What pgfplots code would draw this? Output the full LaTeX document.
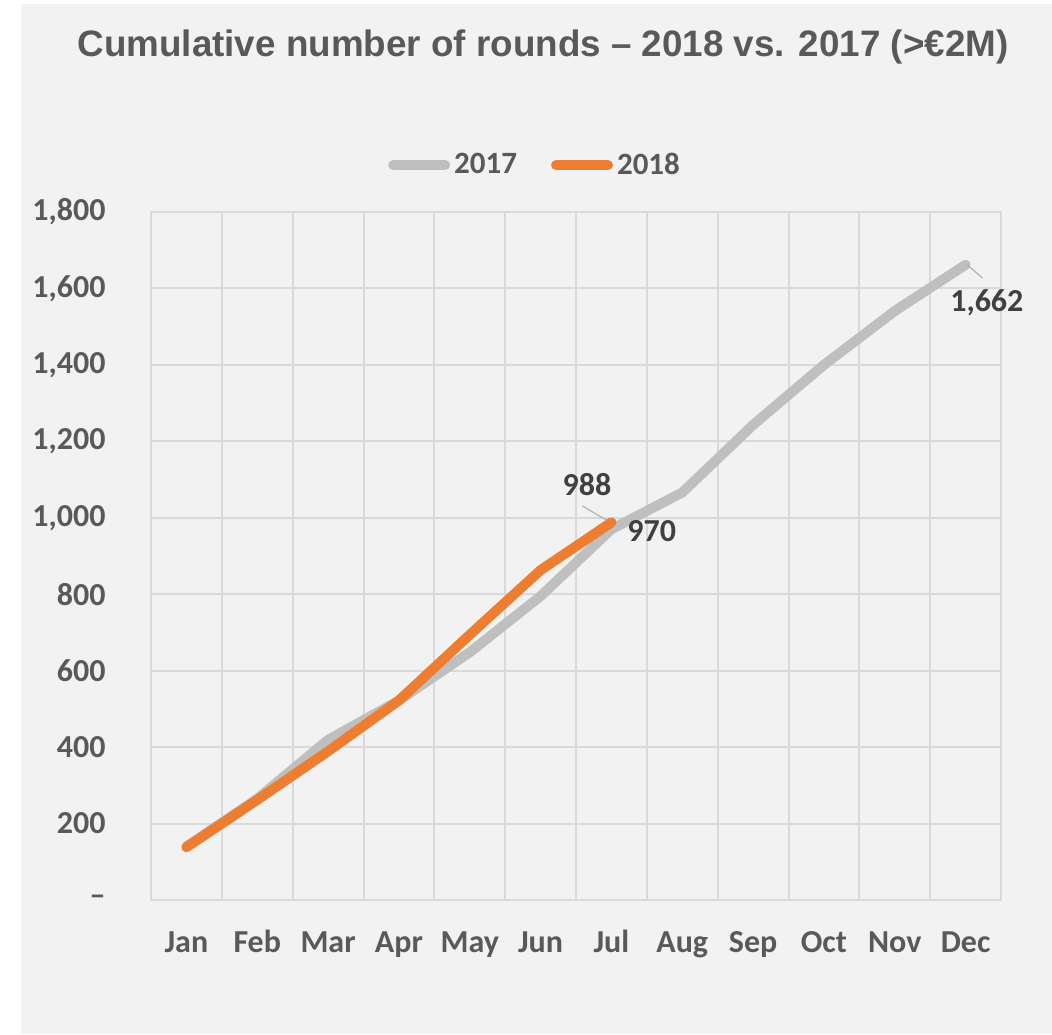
\documentclass[border=0pt]{standalone}
\usepackage{fontspec}
\setmainfont{Carlito}
\newfontfamily\titlefont{Liberation Sans}
\usepackage{pgfplots}
\pgfplotsset{compat=1.18}
\definecolor{bggray}{HTML}{F2F2F2}
\definecolor{gridgray}{HTML}{D9D9D9}
\definecolor{txtgray}{HTML}{595959}
\definecolor{lblgray}{HTML}{404040}
\definecolor{line17}{HTML}{BFBFBF}
\definecolor{line18}{HTML}{ED7D31}

\begin{document}
\begin{tikzpicture}
  \useasboundingbox (-75.5pt,-67pt) rectangle (450.5pt,450pt);
  \fill[white] (-75.5pt,-67pt) rectangle (450.5pt,450pt);
  \fill[bggray] (-65pt,-67pt) rectangle (450.5pt,448pt);
  \begin{axis}[
      scale only axis,
      width=425pt, height=344pt,
      at={(0pt,0pt)}, anchor=south west,
      clip=false,
      xmin=0.5, xmax=12.5,
      ymin=0, ymax=1800,
      xtick={1,...,12},
      xticklabels={Jan,Feb,Mar,Apr,May,Jun,Jul,Aug,Sep,Oct,Nov,Dec},
      minor xtick={0.5,1.5,...,12.5},
      ytick={0,200,...,1800},
      yticklabels={\textendash\hspace{5pt},200,400,600,800,{1,000},{1,200},{1,400},{1,600},{1,800}},
      xmajorgrids=false, xminorgrids=true, ymajorgrids=true,
      grid style={gridgray, line width=1pt},
      minor grid style={gridgray, line width=1pt},
      axis line style={gridgray, line width=1pt},
      major tick length=0pt, minor tick length=0pt,
      tick style={draw=none},
      ticklabel style={font=\bfseries\fontsize{16}{19}\selectfont, text=txtgray, inner sep=0pt},
      yticklabel style={anchor=east, xshift=-22.5pt},
      xticklabel style={anchor=north, text height=11pt, text depth=3pt, yshift=-15pt},
      legend style={
        at={(0.453,1.068)}, anchor=center,
        draw=none, fill=none,
        legend columns=2,
        font=\bfseries\fontsize{15.5}{18}\selectfont,
        text=txtgray,
        /tikz/every even column/.append style={column sep=15pt}
      },
      legend image code/.code={\draw[#1, line cap=round] (0pt,0pt) -- (26pt,0pt);},
    ]
    % 2017
    \addplot[line17, line width=5pt, line cap=round, line join=round] coordinates {
      (1,140) (2,265) (3,419) (4,522) (5,648) (6,795)
      (7,970) (8,1066) (9,1243) (10,1400) (11,1541) (12,1662)
    };
    \addlegendentry{2017}
    % 2018
    \addplot[line18, line width=5pt, line cap=round, line join=round] coordinates {
      (1,138) (2,262) (3,389) (4,522) (5,694) (6,863) (7,988)
    };
    \addlegendentry{2018}

    % data labels
    \draw[line17!80!gray, line width=0.6pt] (axis cs:6.59,1031) -- (axis cs:6.93,994);
    \node[font=\bfseries\fontsize{16}{19}\selectfont, text=lblgray] at (axis cs:6.655,1088) {988};
    \node[font=\bfseries\fontsize{16}{19}\selectfont, text=lblgray] at (axis cs:7.57,965) {970};
    \draw[line17!80!gray, line width=0.6pt] (axis cs:12.02,1662) -- (axis cs:12.24,1627);
    \node[font=\bfseries\fontsize{16}{19}\selectfont, text=lblgray] at (axis cs:12.30,1562) {1,662};
  \end{axis}
  \node[font=\titlefont\bfseries\fontsize{18.4}{22}\selectfont, text=txtgray]
    at (196pt,426.5pt) {Cumulative number of rounds – 2018 vs. 2017 (>€2M)};
\end{tikzpicture}
\end{document}
